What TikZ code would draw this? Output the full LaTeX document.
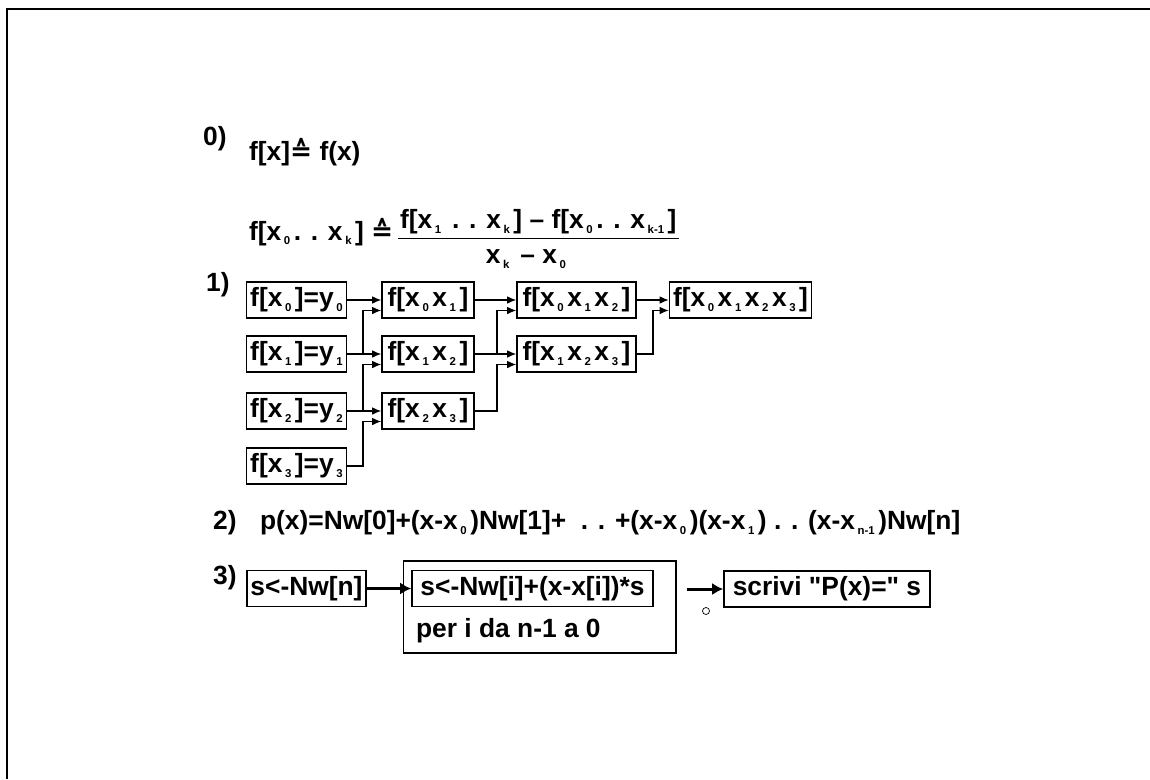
\documentclass[tikz,border=0pt]{standalone}
\usepackage{fontspec}
\setmainfont{Liberation Sans}
\newfontfamily\symfont{DejaVu Sans}
\newfontfamily\qfont{Liberation Sans}
\usetikzlibrary{arrows.meta}
\newcommand{\xsub}[1]{\hspace{1.5pt}\raisebox{-2.5pt}{\fontsize{6.5}{7}\selectfont#1}\hspace{2pt}}
\newcommand{\hateq}{{\symfont ≙}}
\newcommand{\sq}{{\qfont"}}
\tikzset{every node/.style={font=\fontsize{15}{17}\selectfont\bfseries,inner sep=1pt},
 box/.style={draw,line width=.9pt,minimum height=.72cm,minimum width=#1,inner sep=2pt},
 link/.style={-{Latex[length=1.8mm,width=1.5mm]},line width=.6pt},
 heavylink/.style={-{Latex[length=2.2mm,width=2.4mm]},line width=1.7pt}}
\begin{document}
\begin{tikzpicture}[x=.02cm,y=-.02cm]

\useasboundingbox (0,0) rectangle (1150,779);
\draw[line width=1.2pt] (7,779) -- (7,9) -- (1150,9);

% 0) definizione
\node[anchor=west] (lab0) at (201,139) {0)};
\node[anchor=west] (dd0) at (247,152) {f[x]\hateq{} f(x)};
\node[anchor=west] (ddk) at (247,232) {f[x\xsub{0}. . x\xsub{k}] \hateq};
\node[anchor=west] (num) at (398,222) {f[x\xsub{1} . . x\xsub{k}] – f[x\xsub{0}. . x\xsub{k-1}]};
\draw[line width=.6pt] ([yshift=-1pt]num.south west) -- ([yshift=-1pt]num.south east);
\node (den) at (526,259) {x\xsub{k} – x\xsub{0}};

% 1) tabella delle differenze divise
\node[anchor=west] (lab1) at (204,285) {1)};
\node[box=2cm] (a0) at (296.5,300) {f[x\xsub{0}]=y\xsub{0}};
\node[box=2cm] (a1) at (296.5,354) {f[x\xsub{1}]=y\xsub{1}};
\node[box=2cm] (a2) at (296.5,411) {f[x\xsub{2}]=y\xsub{2}};
\node[box=2cm] (a3) at (296.5,466) {f[x\xsub{3}]=y\xsub{3}};
\node[box=1.84cm] (b0) at (428,300) {f[x\xsub{0}x\xsub{1}]};
\node[box=1.84cm] (b1) at (428,354) {f[x\xsub{1}x\xsub{2}]};
\node[box=1.84cm] (b2) at (428,411) {f[x\xsub{2}x\xsub{3}]};
\node[box=2.38cm] (c0) at (576.5,300) {f[x\xsub{0}x\xsub{1}x\xsub{2}]};
\node[box=2.38cm] (c1) at (576.5,354) {f[x\xsub{1}x\xsub{2}x\xsub{3}]};
\node[box=2.7cm] (d0) at (740.5,300) {f[x\xsub{0}x\xsub{1}x\xsub{2}x\xsub{3}]};

\coordinate (v1) at (363,0);
\coordinate (v2) at (497,0);
\coordinate (v3) at (653,0);
\coordinate (b0lo) at ([yshift=-.21cm]b0.west);
\coordinate (b1lo) at ([yshift=-.21cm]b1.west);
\coordinate (b2lo) at ([yshift=-.21cm]b2.west);
\coordinate (c0lo) at ([yshift=-.21cm]c0.west);
\coordinate (c1lo) at ([yshift=-.21cm]c1.west);
\coordinate (d0lo) at ([yshift=-.21cm]d0.west);

\draw[link] (a0.east) -- (b0.west);
\draw[link] (a1.east) -- (b1.west);
\draw[link] (a2.east) -- (b2.west);
\draw[link] (a1.east) -| (v1 |- b0lo) -- (b0lo);
\draw[link] (a2.east) -| (v1 |- b1lo) -- (b1lo);
\draw[link] (a3.east) -| (v1 |- b2lo) -- (b2lo);
\draw[link] (b0.east) -- (c0.west);
\draw[link] (b1.east) -- (c1.west);
\draw[link] (b1.east) -| (v2 |- c0lo) -- (c0lo);
\draw[link] (b2.east) -| (v2 |- c1lo) -- (c1lo);
\draw[link] (c0.east) -- (d0.west);
\draw[link] (c1.east) -| (v3 |- d0lo) -- (d0lo);

% 2) polinomio di Newton
\node[anchor=west] (lab2) at (211,523) {2)};
\node[anchor=west] (poly) at (258,523)
 {p(x)=Nw[0]+(x-x\xsub{0})Nw[1]+ \ . . +(x-x\xsub{0})(x-x\xsub{1}) . . (x-x\xsub{n-1})Nw[n]};

% 3) valutazione
\node[anchor=west] (lab3) at (211,578) {3)};
\node[box=2.3cm] (init) at (306.5,588.5) {s<-Nw[n]};
\node[draw,line width=.6pt,minimum width=5.46cm,minimum height=1.84cm] (loop) at (539.5,607) {};
\node[box=4.82cm] (body) at (532.5,588.5) {s<-Nw[i]+(x-x[i])*s};
\node[anchor=west] (range) at (414,631) {per i da n-1 a 0};
\node[box=4.12cm] (wout) at (827,589) {scrivi \sq P(x)=\sq{} s};
\node[circle,draw,line width=.4pt,inner sep=0pt,minimum size=4pt] (dot) at (706,611) {};
\draw[heavylink] (init.east) -- (body.west);
\draw[heavylink,shorten <=.2cm] (loop.east |- wout.west) -- (wout.west);

\end{tikzpicture}
\end{document}
